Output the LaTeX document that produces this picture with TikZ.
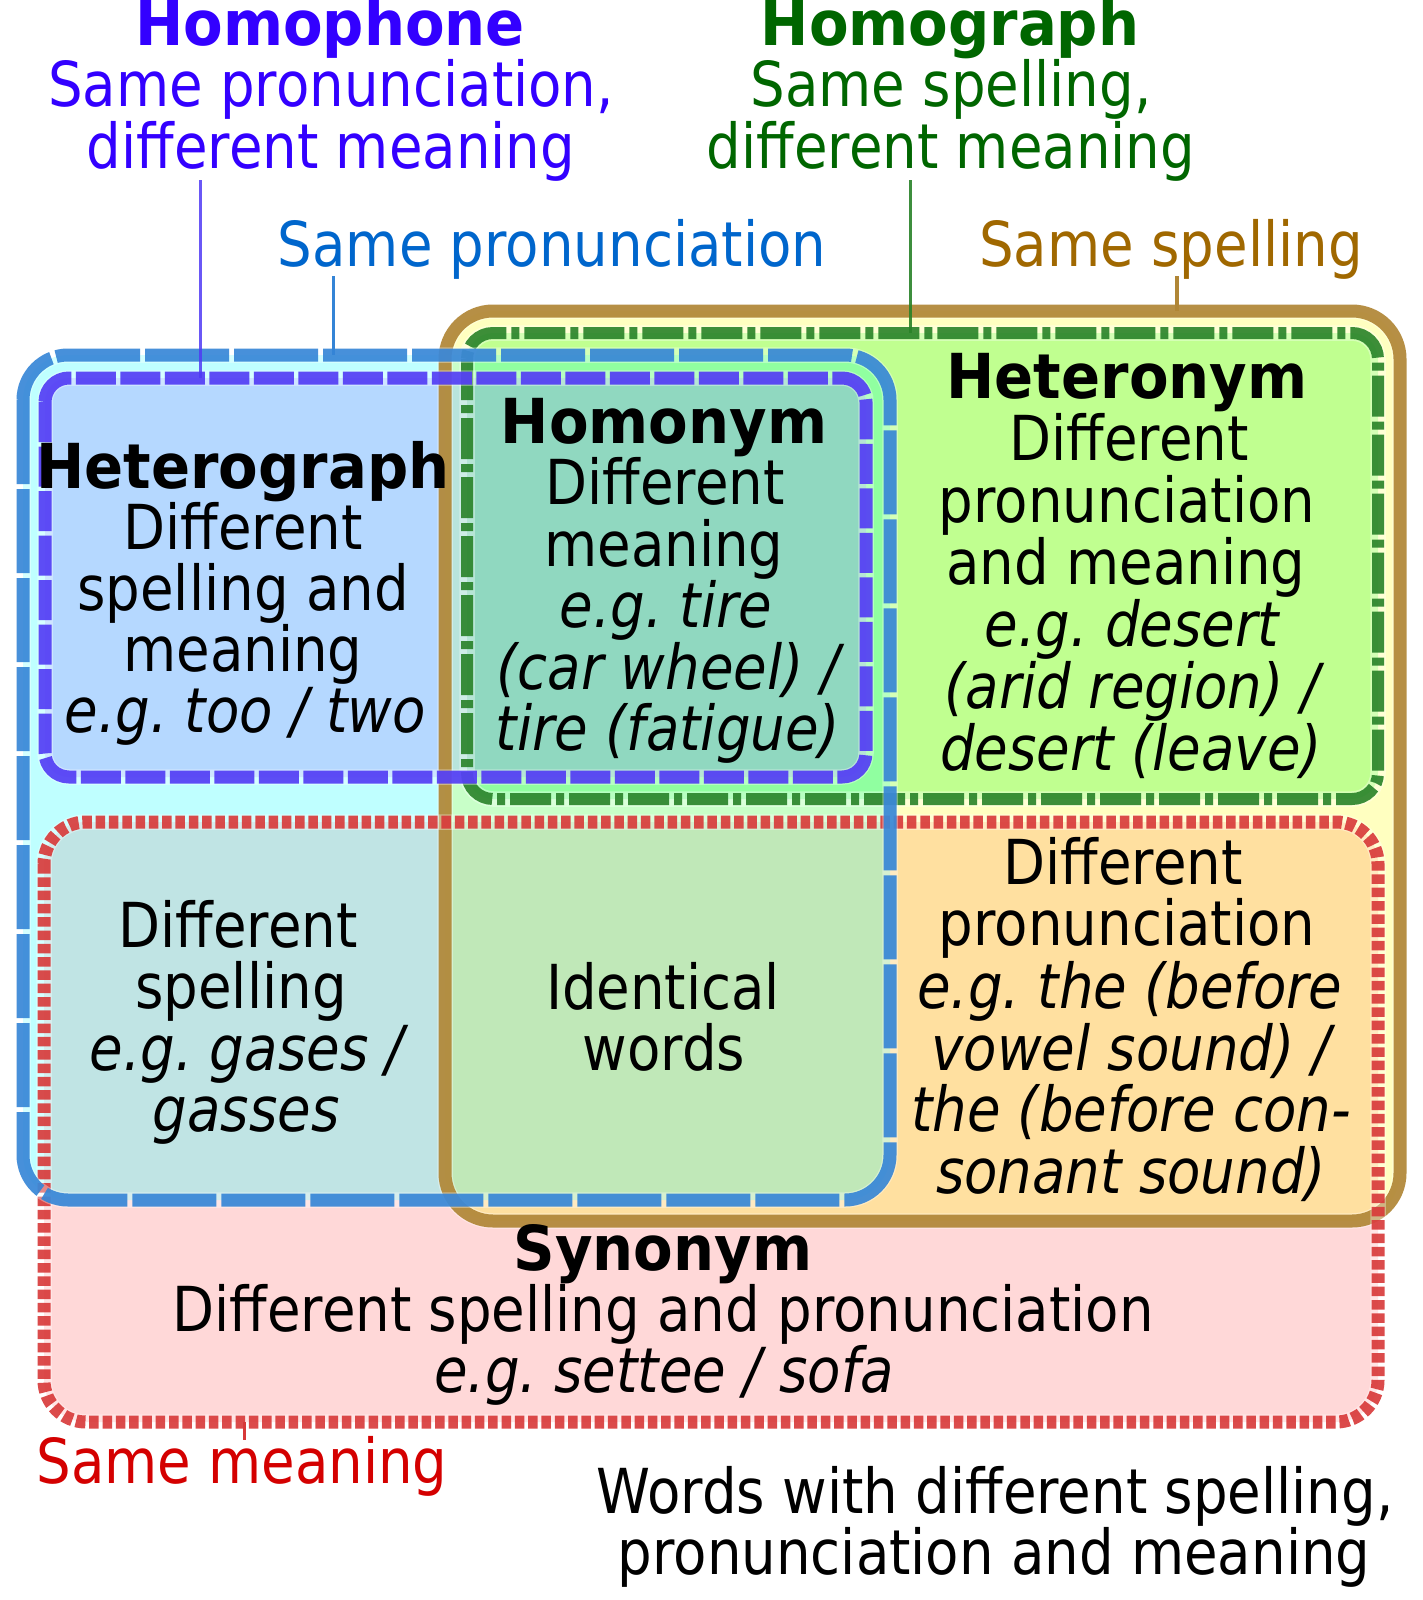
\documentclass[tikz,border=0pt]{standalone}
\usepackage{fontspec}
\setmainfont{DejaVu Sans}[FakeStretch=0.88]
\newfontfamily\bfam{DejaVu Sans}[FakeStretch=0.93]
\frenchspacing
\newcommand\fsz{\fontsize{62}{61}\selectfont\frenchspacing}
\definecolor{cB}{HTML}{BFFFFF}
\definecolor{cP}{HTML}{B5D8FF}
\definecolor{cY}{HTML}{FFFFC0}
\definecolor{cG}{HTML}{C0FF90}
\definecolor{cR}{HTML}{FFD8D8}
\definecolor{cBY}{HTML}{C8FFC8}
\definecolor{cBG}{HTML}{90FFA0}
\definecolor{cPY}{HTML}{B8E4DC}
\definecolor{cPG}{HTML}{90D8C0}
\definecolor{cBR}{HTML}{C0E4E4}
\definecolor{cYR}{HTML}{FFE0A0}
\definecolor{cBYR}{HTML}{C0E8B8}
\definecolor{lnB}{HTML}{3484D6}
\definecolor{lnP}{HTML}{503AF5}
\definecolor{lnG}{HTML}{288228}
\definecolor{lnR}{HTML}{D83838}
\definecolor{lnY}{HTML}{B08636}
\definecolor{txP}{HTML}{3300FF}
\definecolor{txG}{HTML}{006600}
\definecolor{txB}{HTML}{0066CC}
\definecolor{txY}{HTML}{A06800}
\definecolor{txR}{HTML}{D40000}
\def\shB{[rounded corners=45pt] (23,355) rectangle (890,1200)}
\def\shP{[rounded corners=24pt] (45,378) rectangle (866,777)}
\def\shY{[rounded corners=48pt] (445,311) rectangle (1400,1221)}
\def\shG{[rounded corners=26pt] (467,333) rectangle (1378,799)}
\def\shR{[rounded corners=42pt] (44,822) rectangle (1378,1422)}
\tikzset{
  txt/.style={inner sep=0pt, anchor=base, font=\fsz},
  tb/.style={txt, font=\fsz\bfam\bfseries},
  tit/.style={txt, font=\fsz\itshape},
  halo/.style={draw=white, draw opacity=0.35, line width=15.5pt},
  edgeB/.style={draw=lnB, draw opacity=0.9, line width=13pt, dash pattern=on 84pt off 5pt},
  edgeP/.style={draw=lnP, draw opacity=0.9, line width=13pt, dash pattern=on 40pt off 4.5pt},
  edgeG/.style={draw=lnG, draw opacity=0.9, line width=12pt, dash pattern=on 41pt off 5pt on 8pt off 5pt},
  edgeR/.style={draw=lnR, draw opacity=0.9, line width=13pt, dash pattern=on 9.5pt off 3.8pt},
  edgeY/.style={draw=lnY, draw opacity=0.92, line width=13pt},
  conn/.style={line width=3pt},
}
\begin{document}
\begin{tikzpicture}[x=1pt,y=-1pt]
\useasboundingbox (0,0) rectangle (1422,1600);
\fill[white] (0,0) rectangle (1422,1600);
% region fills
\fill[cB] \shB;
\fill[cY] \shY;
\fill[cR] \shR;
\fill[cP] \shP;
\fill[cG] \shG;
\begin{scope}
  \clip \shB;
  \fill[cBY] \shY;
  \fill[cBR] \shR;
\end{scope}
\begin{scope}
  \clip \shY;
  \fill[cYR] \shR;
\end{scope}
\begin{scope}
  \clip \shB;
  \clip \shY;
  \fill[cBYR] \shR;
  \fill[cBG] \shG;
  \fill[cPY] \shP;
\end{scope}
\begin{scope}
  \clip \shP;
  \fill[cPG] \shG;
\end{scope}
% borders
\path[halo] \shY;
\path[edgeY] \shY;
\path[halo] \shG;
\path[edgeG] \shG;
\path[halo] \shR;
\path[edgeR] \shR;
\path[halo] \shB;
\path[edgeB] \shB;
\path[halo] \shP;
\path[edgeP] \shP;
% connectors
\coordinate (cpa) at (200,180);
\coordinate (cpb) at (200,378);
\coordinate (cba) at (333,276);
\coordinate (cbb) at (333,355);
\coordinate (cga) at (910,180);
\coordinate (cgb) at (910,333);
\coordinate (cya) at (1177,276);
\coordinate (cyb) at (1177,311);
\coordinate (cra) at (244,1422);
\coordinate (crb) at (244,1440);
\draw[conn, draw=lnP, draw opacity=0.85] (cpa) -- (cpb);
\draw[conn, draw=lnB] (cba) -- (cbb);
\draw[conn, draw=lnG, draw opacity=0.9] (cga) -- (cgb);
\draw[conn, draw=lnY, line width=3.5pt] (cya) -- (cyb);
\draw[conn, draw=lnR] (cra) -- (crb);
% top labels
\node[tb, text=txP] (hp1) at (330,46) {Homophone};
\node[txt, text=txP] (hp2) at (331,107) {Same pronunciation,};
\node[txt, text=txP] (hp3) at (331,168) {different meaning};
\node[tb, text=txG] (hg1) at (950,46) {Homograph};
\node[txt, text=txG] (hg2) at (951,107) {Same spelling,};
\node[txt, text=txG] (hg3) at (951,168) {different meaning};
\node[txt, text=txB] (spr) at (552,266) {Same pronunciation};
\node[txt, text=txY] (ssp) at (1171,266) {Same spelling};
% heterograph
\node[tb] (hgr1) at (243,488) {Heterograph};
\node[txt] (hgr2) at (243,549) {Different};
\node[txt] (hgr3) at (243,610) {spelling and};
\node[txt] (hgr4) at (243,671) {meaning};
\node[tit] (hgr5) at (245,732) {e.g. too / two};
% homonym
\node[tb] (hmn1) at (664,443) {Homonym};
\node[txt] (hmn2) at (665,504) {Different};
\node[txt] (hmn3) at (664,566) {meaning};
\node[tit] (hmn4) at (666,627) {e.g. tire};
\node[tit] (hmn5) at (668,689) {(car wheel) /};
\node[tit] (hmn6) at (668,750) {tire (fatigue)};
% heteronym
\node[tb] (htn1) at (1127,398) {Heteronym};
\node[txt] (htn2) at (1129,460) {Different};
\node[txt] (htn3) at (1127,522) {pronunciation};
\node[txt] (htn4) at (1126,584) {and meaning};
\node[tit] (htn5) at (1132,646) {e.g. desert};
\node[tit] (htn6) at (1132,708) {(arid region) /};
\node[tit] (htn7) at (1131,770) {desert (leave)};
% different spelling
\node[txt] (dsp1) at (238,947) {Different};
\node[txt] (dsp2) at (241,1008) {spelling};
\node[tit] (dsp3) at (247,1070) {e.g. gases /};
\node[tit] (dsp4) at (246,1131) {gasses};
% identical
\node[txt] (idw1) at (663,1009) {Identical};
\node[txt] (idw2) at (664,1070) {words};
% different pronunciation
\node[txt] (dpr1) at (1123,884) {Different};
\node[txt] (dpr2) at (1127,945) {pronunciation};
\node[tit] (dpr3) at (1130,1008) {e.g. the (before};
\node[tit] (dpr4) at (1131,1070) {vowel sound) /};
\node[tit] (dpr5) at (1131,1131) {the (before con-};
\node[tit] (dpr6) at (1131,1193) {sonant sound)};
% synonym
\node[tb] (syn1) at (663,1270) {Synonym};
\node[txt] (syn2) at (663,1331) {Different spelling and pronunciation};
\node[tit] (syn3) at (664,1392) {e.g. settee / sofa};
% bottom labels
\node[txt, text=txR] (smn) at (242,1483) {Same meaning};
\node[txt] (wd1) at (995,1513) {Words with different spelling,};
\node[txt] (wd2) at (994,1574) {pronunciation and meaning};
\end{tikzpicture}
\end{document}
